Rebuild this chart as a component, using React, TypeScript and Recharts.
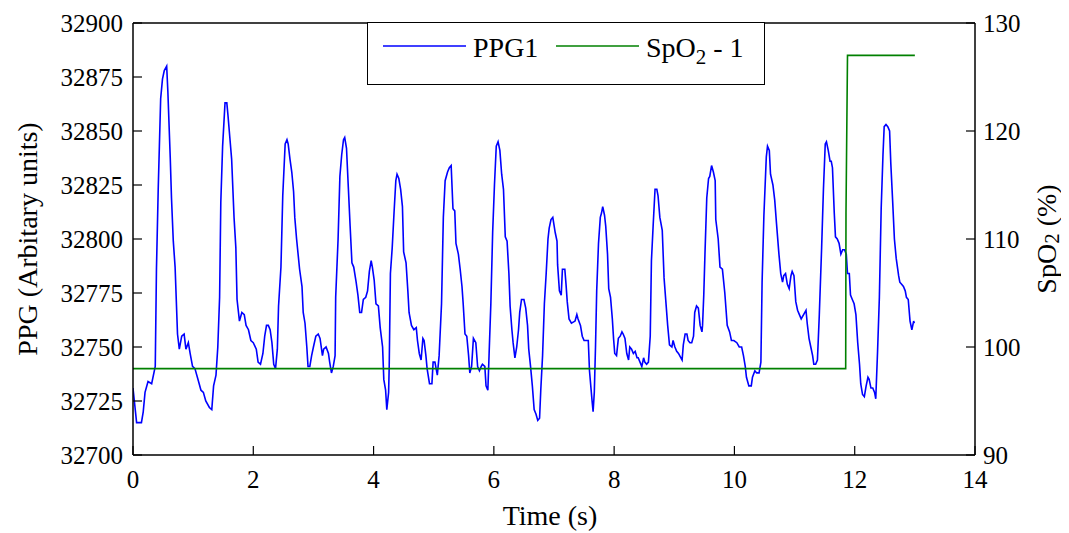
import React from 'react';
import { LineChart, Line, XAxis, YAxis, Legend, ReferenceLine } from 'recharts';

const FONT = '"Liberation Serif", "Times New Roman", serif';

// PPG1 samples (time in s, value in arbitrary units)
const PPG_TIME = [
  0.00, 0.06, 0.14, 0.17, 0.20, 0.25, 0.31, 0.37, 0.39, 0.42,
  0.46, 0.49, 0.52, 0.56, 0.58, 0.62, 0.64, 0.67, 0.70, 0.74,
  0.77, 0.81, 0.85, 0.88, 0.92, 0.95, 0.99, 1.03, 1.09, 1.13,
  1.17, 1.21, 1.27, 1.31, 1.34, 1.38, 1.41, 1.44, 1.46, 1.49,
  1.53, 1.56, 1.58, 1.61, 1.64, 1.68, 1.71, 1.73, 1.77, 1.81,
  1.85, 1.88, 1.92, 1.96, 2.00, 2.05, 2.08, 2.12, 2.16, 2.19,
  2.22, 2.25, 2.28, 2.31, 2.34, 2.37, 2.40, 2.42, 2.46, 2.49,
  2.53, 2.56, 2.58, 2.61, 2.64, 2.67, 2.69, 2.72, 2.77, 2.81,
  2.83, 2.86, 2.89, 2.91, 2.94, 2.97, 3.00, 3.04, 3.08, 3.11,
  3.15, 3.17, 3.21, 3.25, 3.27, 3.30, 3.33, 3.36, 3.37, 3.41,
  3.44, 3.47, 3.50, 3.52, 3.55, 3.58, 3.61, 3.64, 3.67, 3.71,
  3.74, 3.77, 3.80, 3.83, 3.87, 3.90, 3.93, 3.96, 3.98, 4.01,
  4.04, 4.08, 4.11, 4.15, 4.17, 4.20, 4.22, 4.25, 4.26, 4.28,
  4.31, 4.34, 4.37, 4.39, 4.42, 4.45, 4.48, 4.50, 4.54, 4.57,
  4.59, 4.63, 4.67, 4.71, 4.73, 4.76, 4.79, 4.82, 4.84, 4.87,
  4.89, 4.93, 4.97, 4.99, 5.02, 5.06, 5.09, 5.13, 5.16, 5.19,
  5.23, 5.26, 5.29, 5.32, 5.35, 5.37, 5.41, 5.44, 5.47, 5.49,
  5.52, 5.55, 5.58, 5.60, 5.63, 5.66, 5.70, 5.73, 5.76, 5.79,
  5.81, 5.85, 5.87, 5.90, 5.92, 5.95, 5.98, 6.01, 6.04, 6.07,
  6.10, 6.13, 6.16, 6.19, 6.22, 6.25, 6.27, 6.30, 6.32, 6.35,
  6.38, 6.41, 6.43, 6.46, 6.50, 6.53, 6.56, 6.58, 6.61, 6.64,
  6.67, 6.70, 6.73, 6.76, 6.78, 6.81, 6.84, 6.87, 6.90, 6.92,
  6.95, 6.98, 7.02, 7.05, 7.06, 7.09, 7.12, 7.14, 7.18, 7.20,
  7.22, 7.25, 7.29, 7.35, 7.38, 7.40, 7.44, 7.47, 7.50, 7.53,
  7.57, 7.59, 7.63, 7.65, 7.67, 7.69, 7.71, 7.74, 7.77, 7.79,
  7.81, 7.84, 7.86, 7.89, 7.91, 7.94, 7.97, 7.99, 8.01, 8.04,
  8.07, 8.10, 8.13, 8.15, 8.18, 8.21, 8.24, 8.26, 8.29, 8.32,
  8.35, 8.38, 8.40, 8.43, 8.46, 8.49, 8.51, 8.54, 8.57, 8.60,
  8.62, 8.65, 8.68, 8.71, 8.73, 8.76, 8.80, 8.83, 8.86, 8.89,
  8.92, 8.96, 8.98, 9.01, 9.04, 9.07, 9.11, 9.13, 9.15, 9.18,
  9.21, 9.23, 9.26, 9.29, 9.32, 9.34, 9.37, 9.40, 9.43, 9.46,
  9.47, 9.49, 9.51, 9.54, 9.57, 9.59, 9.62, 9.65, 9.68, 9.69,
  9.73, 9.76, 9.80, 9.84, 9.88, 9.92, 9.95, 9.99, 10.04, 10.08,
  10.12, 10.15, 10.18, 10.20, 10.24, 10.28, 10.30, 10.34, 10.37, 10.41,
  10.44, 10.46, 10.49, 10.53, 10.55, 10.58, 10.60, 10.64, 10.67, 10.70,
  10.74, 10.77, 10.80, 10.82, 10.85, 10.88, 10.91, 10.94, 10.96, 10.99,
  11.02, 11.05, 11.08, 11.11, 11.15, 11.19, 11.21, 11.24, 11.27, 11.30,
  11.32, 11.35, 11.38, 11.41, 11.45, 11.48, 11.51, 11.53, 11.56, 11.59,
  11.61, 11.63, 11.66, 11.68, 11.71, 11.74, 11.77, 11.80, 11.83, 11.86,
  11.88, 11.91, 11.93, 11.96, 11.99, 12.02, 12.05, 12.08, 12.10, 12.13,
  12.16, 12.19, 12.22, 12.24, 12.27, 12.30, 12.33, 12.35, 12.38, 12.41,
  12.44, 12.47, 12.49, 12.52, 12.55, 12.58, 12.60, 12.63, 12.66, 12.69,
  12.73, 12.75, 12.78, 12.81, 12.84, 12.86, 12.89, 12.92, 12.95, 12.98,
  12.99,
];

const PPG_VALUE = [
  32731, 32715, 32715, 32720, 32729, 32734, 32733, 32741, 32786, 32824,
  32865, 32874, 32878, 32880, 32868, 32837, 32819, 32799, 32787, 32756,
  32749, 32755, 32756, 32749, 32752, 32747, 32741, 32740, 32734, 32730,
  32729, 32725, 32722, 32721, 32732, 32737, 32750, 32773, 32817, 32843,
  32863, 32863, 32857, 32847, 32837, 32810, 32796, 32772, 32762, 32766,
  32765, 32760, 32758, 32753, 32752, 32749, 32743, 32742, 32747, 32755,
  32760, 32760, 32758, 32752, 32742, 32740, 32749, 32769, 32787, 32820,
  32844, 32846, 32844, 32837, 32831, 32822, 32810, 32800, 32786, 32778,
  32766, 32761, 32750, 32741, 32741, 32746, 32750, 32755, 32756, 32754,
  32746, 32749, 32750, 32747, 32743, 32738, 32741, 32746, 32773, 32800,
  32829, 32839, 32846, 32847, 32842, 32824, 32806, 32789, 32787, 32780,
  32774, 32766, 32766, 32772, 32773, 32776, 32785, 32790, 32787, 32781,
  32770, 32769, 32759, 32750, 32735, 32730, 32721, 32729, 32741, 32784,
  32796, 32812, 32827, 32830, 32828, 32823, 32815, 32794, 32789, 32776,
  32766, 32760, 32758, 32759, 32753, 32747, 32744, 32754, 32753, 32746,
  32740, 32733, 32733, 32743, 32743, 32737, 32746, 32770, 32810, 32827,
  32831, 32833, 32834, 32814, 32813, 32798, 32793, 32786, 32778, 32770,
  32756, 32755, 32746, 32738, 32741, 32754, 32752, 32741, 32739, 32741,
  32742, 32741, 32732, 32730, 32746, 32770, 32803, 32825, 32843, 32845,
  32841, 32830, 32823, 32801, 32799, 32784, 32769, 32758, 32752, 32745,
  32750, 32758, 32766, 32772, 32772, 32768, 32760, 32749, 32741, 32732,
  32721, 32719, 32716, 32717, 32730, 32746, 32770, 32784, 32800, 32805,
  32809, 32810, 32803, 32799, 32788, 32776, 32774, 32786, 32786, 32779,
  32771, 32763, 32761, 32762, 32765, 32763, 32760, 32755, 32753, 32753,
  32753, 32739, 32726, 32720, 32729, 32750, 32776, 32798, 32810, 32812,
  32815, 32811, 32806, 32793, 32777, 32773, 32763, 32754, 32747, 32746,
  32754, 32755, 32757, 32756, 32754, 32747, 32744, 32750, 32749, 32747,
  32748, 32745, 32745, 32743, 32741, 32745, 32743, 32742, 32743, 32755,
  32790, 32807, 32823, 32823, 32820, 32810, 32804, 32782, 32771, 32760,
  32751, 32750, 32753, 32750, 32748, 32747, 32745, 32744, 32751, 32756,
  32756, 32753, 32752, 32752, 32755, 32766, 32769, 32768, 32760, 32757,
  32760, 32774, 32793, 32819, 32828, 32829, 32834, 32831, 32827, 32809,
  32800, 32787, 32786, 32775, 32760, 32757, 32753, 32753, 32752, 32750,
  32750, 32746, 32741, 32736, 32732, 32732, 32736, 32739, 32738, 32738,
  32743, 32780, 32811, 32838, 32843, 32841, 32830, 32825, 32818, 32807,
  32793, 32784, 32780, 32783, 32784, 32779, 32777, 32783, 32785, 32783,
  32771, 32767, 32765, 32763, 32765, 32767, 32761, 32754, 32750, 32746,
  32742, 32742, 32744, 32764, 32796, 32823, 32844, 32845, 32841, 32836,
  32836, 32833, 32812, 32801, 32800, 32798, 32793, 32795, 32795, 32793,
  32784, 32784, 32774, 32772, 32770, 32765, 32752, 32742, 32733, 32728,
  32727, 32732, 32736, 32735, 32731, 32731, 32729, 32726, 32748, 32773,
  32814, 32839, 32852, 32853, 32852, 32850, 32835, 32818, 32800, 32791,
  32783, 32780, 32779, 32778, 32776, 32773, 32772, 32762, 32758, 32762,
  32761,
];

// SpO2 - 1 (%), a step from 98 to 127 just before 12 s
const SPO2_TIME = [0, 11.85, 11.855, 11.88, 13];
const SPO2_VALUE = [98, 98, 112.4, 127, 127];

const X_TICKS = [0, 2, 4, 6, 8, 10, 12, 14];
const PPG_TICKS = [32700, 32725, 32750, 32775, 32800, 32825, 32850, 32875, 32900];
const SPO2_TICKS = [90, 100, 110, 120, 130];

const ppgData = PPG_TIME.map((t, i) => ({ t, ppg: PPG_VALUE[i] }));
const spo2Data = SPO2_TIME.map((t, i) => ({ t, spo2: SPO2_VALUE[i] }));

const TICK_FONT = 25;
const TICK_LEN = 9;

// ticks point into the plot, like the MATLAB original
function LeftTick(props: any) {
  const { x, y, payload } = props;
  const ax = x + 10;
  return (
    <g>
      <line x1={ax} x2={ax + TICK_LEN} y1={y} y2={y} stroke="#000" strokeWidth={1.2} />
      <text x={x} y={y} dy="0.355em" textAnchor="end" fontSize={TICK_FONT} fontFamily={FONT} fill="#000">
        {payload.value}
      </text>
    </g>
  );
}

function RightTick(props: any) {
  const { x, y, payload } = props;
  const ax = x - 8;
  return (
    <g>
      <line x1={ax} x2={ax - TICK_LEN} y1={y} y2={y} stroke="#000" strokeWidth={1.2} />
      <text x={x} y={y} dy="0.355em" textAnchor="start" fontSize={TICK_FONT} fontFamily={FONT} fill="#000">
        {payload.value}
      </text>
    </g>
  );
}

function BottomTick(props: any) {
  const { x, y, payload } = props;
  const ay = y - 15;
  return (
    <g>
      <line x1={x} x2={x} y1={ay} y2={ay - TICK_LEN} stroke="#000" strokeWidth={1.2} />
      <text x={x} y={y} dy="0.71em" textAnchor="middle" fontSize={TICK_FONT} fontFamily={FONT} fill="#000">
        {payload.value}
      </text>
    </g>
  );
}

// "SpO2" with the 2 written as a subscript
function withSub(text: string, size: number, shift: number) {
  const idx = text.indexOf('SpO2');
  if (idx < 0) return text;
  return [
    <tspan key="a">{text.slice(0, idx) + 'SpO'}</tspan>,
    <tspan key="b" dy={shift} fontSize={size * 0.75}>2</tspan>,
    <tspan key="c" dy={-shift} fontSize={size}>{text.slice(idx + 4)}</tspan>,
  ];
}

function LegendBox(props: any) {
  const items = props.payload || [];
  return (
    <div style={{ width: 398, height: 63, border: '1.5px solid #000', background: '#fff', boxSizing: 'border-box' }}>
      <svg width={395} height={60} style={{ display: 'block' }}>
        {items.map((it: any, i: number) => {
          const x0 = i === 0 ? 15 : 188;
          return (
            <g key={i}>
              <line x1={x0} x2={x0 + 83} y1={23} y2={23} stroke={it.color} strokeWidth={1.5} />
              <text x={x0 + 90} y={34} fontSize={28} fontFamily={FONT} fill="#000">
                {withSub(String(it.value), 28, 7)}
              </text>
            </g>
          );
        })}
      </svg>
    </div>
  );
}

function LeftTitle(props: any) {
  const vb = props.viewBox || { x: 10, y: 15, width: 115, height: 432 };
  const cx = vb.x + 9;
  const cy = vb.y + vb.height / 2;
  return (
    <text x={cx} y={cy} transform={`rotate(-90 ${cx} ${cy})`} textAnchor="middle" dominantBaseline="central"
      fontSize={28} fontFamily={FONT} fill="#000">
      PPG (Arbitary units)
    </text>
  );
}

function RightTitle(props: any) {
  const vb = props.viewBox || { x: 967, y: 15, width: 84, height: 432 };
  const cx = vb.x + 71;
  const cy = vb.y + vb.height / 2;
  return (
    <text x={cx} y={cy} transform={`rotate(-90 ${cx} ${cy})`} textAnchor="middle" dominantBaseline="central"
      fontSize={28} fontFamily={FONT} fill="#000">
      {withSub('SpO2 (%)', 28, 6)}
    </text>
  );
}

function BottomTitle(props: any) {
  const vb = props.viewBox || { x: 125, y: 447, width: 842, height: 41 };
  return (
    <text x={vb.x + vb.width / 2 - 4} y={vb.y + 70} textAnchor="middle" fontSize={28} fontFamily={FONT} fill="#000">
      Time (s)
    </text>
  );
}

export default function App() {
  return (
    <LineChart width={1061} height={525} margin={{ top: 15, right: 10, bottom: 37, left: 10 }}>
      <XAxis
        dataKey="t"
        type="number"
        domain={[0, 14]}
        ticks={X_TICKS}
        interval={0}
        height={41}
        allowDataOverflow
        tickLine={false}
        tickSize={0}
        tickMargin={15}
        tick={BottomTick}
        stroke="#000"
        strokeWidth={1.5}
        label={BottomTitle}
      />
      <YAxis
        yAxisId="ppg"
        orientation="left"
        domain={[32700, 32900]}
        ticks={PPG_TICKS}
        interval={0}
        width={115}
        allowDataOverflow
        tickLine={false}
        tickSize={0}
        tickMargin={10}
        tick={LeftTick}
        stroke="#000"
        strokeWidth={1.5}
        label={LeftTitle}
      />
      <YAxis
        yAxisId="spo2"
        orientation="right"
        domain={[90, 130]}
        ticks={SPO2_TICKS}
        interval={0}
        width={84}
        allowDataOverflow
        tickLine={false}
        tickSize={0}
        tickMargin={8}
        tick={RightTick}
        stroke="#000"
        strokeWidth={1.5}
        label={RightTitle}
      />
      <ReferenceLine yAxisId="ppg" y={32900} stroke="#000" strokeWidth={1.5} />
      <Legend
        layout="horizontal"
        verticalAlign="middle"
        align="center"
        wrapperStyle={{ left: 359, top: 14, width: 398 }}
        content={LegendBox}
      />
      <Line
        yAxisId="ppg"
        data={ppgData}
        dataKey="ppg"
        name="PPG1"
        type="linear"
        stroke="#0000ff"
        strokeWidth={1.6}
        dot={false}
        isAnimationActive={false}
      />
      <Line
        yAxisId="spo2"
        data={spo2Data}
        dataKey="spo2"
        name="SpO2 - 1"
        type="linear"
        stroke="#008000"
        strokeWidth={1.6}
        dot={false}
        isAnimationActive={false}
      />
    </LineChart>
  );
}
